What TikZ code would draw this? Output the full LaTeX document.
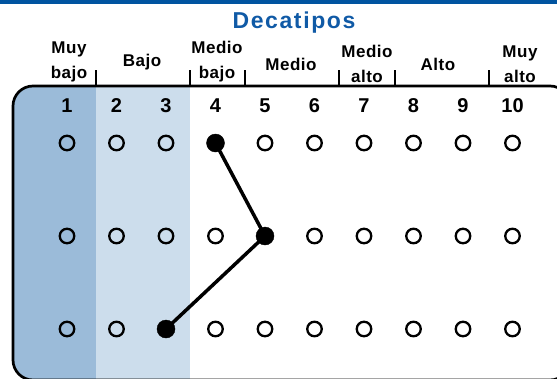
\documentclass[tikz,border=0pt]{standalone}
\usepackage{fontspec}
\setmainfont{Liberation Sans}
\definecolor{topblue}{RGB}{0,84,160}
\definecolor{titleblue}{RGB}{16,90,166}
\definecolor{darkband}{RGB}{155,187,217}
\definecolor{lightband}{RGB}{204,221,236}
\tikzset{
	openstyle/.style={circle,draw=black,line width=2.3pt,minimum size=14.5pt,inner sep=0pt},
	filledstyle/.style={circle,draw=black,fill=black,minimum size=18pt,inner sep=0pt},
	numberstyle/.style={font=\fontsize{20}{20}\selectfont\bfseries},
	levelstyle/.style={align=center,font=\fontsize{17}{25}\selectfont\bfseries\addfontfeatures{LetterSpace=3}},
	tickstyle/.style={line width=2.5pt}
}
\begin{document}
\begin{tikzpicture}[x=1pt,y=-1pt]
		\useasboundingbox (0,0) rectangle (557,378);
		\clip (0,0) rectangle (557,378);
		\fill[topblue] (0,0) rectangle (557,4);
		\node[font=\fontsize{23}{23}\selectfont\bfseries\addfontfeatures{LetterSpace=7},text=titleblue] (title) at (294,23) {Decatipos};
		% bands behind the low columns
		\begin{scope}
			\clip[rounded corners=20pt] (13,86) rectangle (570,380);
			\fill[darkband] (13,86) rectangle (96,380);
			\fill[lightband] (96,86) rectangle (190,380);
		\end{scope}
		\draw[line width=2.7pt,rounded corners=20pt] (13,86) rectangle (570,380);
		\foreach \x in {96,190,245,339,395,489}
			\draw[tickstyle] (\x,70) -- (\x,86);
		\node[levelstyle] (muybajo) at (69,62) {Muy\\bajo};
		\node[levelstyle] (bajo) at (142,62) {Bajo};
		\node[levelstyle] (mediobajo) at (217,62) {Medio\\bajo};
		\node[levelstyle] (medio) at (291,64) {Medio};
		\node[levelstyle] (medioalto) at (367,64) {Medio\\alto};
		\node[levelstyle] (alto) at (438,64) {Alto};
		\node[levelstyle] (muyalto) at (520,64) {Muy\\alto};
		% columns and rows of dots
		\foreach \c in {1,...,10} {
			\node[numberstyle] (n\c) at ({67+49.5*(\c-1)},106) {\c};
			\foreach \r/\y in {1/143,2/236,3/329}
				\node[openstyle] (c\c r\r) at ({67+49.5*(\c-1)},\y) {};
		}
		\node[filledstyle] (top) at (c4r1) {};
		\node[filledstyle] (mid) at (c5r2) {};
		\node[filledstyle] (low) at (c3r3) {};
		\draw[line width=3.5pt] (top.center)--(mid.center)--(low.center);
\end{tikzpicture}
\end{document}
